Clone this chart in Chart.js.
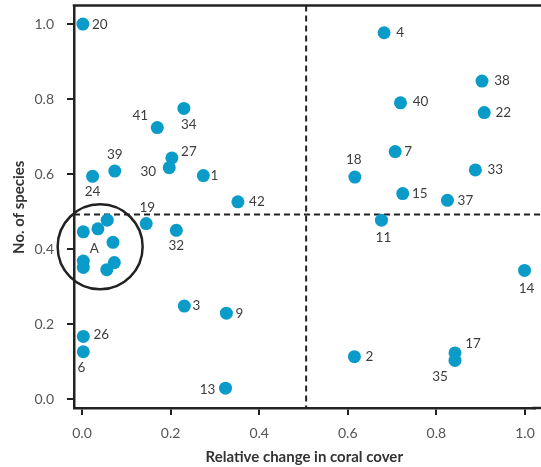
<!DOCTYPE html>
<html>
<head>
<meta charset="utf-8">
<script src="https://cdn.jsdelivr.net/npm/chart.js@4"></script>
<style>
  html, body { margin: 0; padding: 0; background: #fff; }
  canvas { display: block; }
</style>
</head>
<body>
<canvas id="c" width="541" height="467"></canvas>
<script>
// ---- data ----
const siteIds = ['1','2','3','4','6','7','9','11','13','14','15','17','18','19','20','22','24','26','27','30','32','33','34','35','37','38','39','40','41','42','','','','','','','',''];
const coverChange = [0.274,0.615,0.231,0.682,0.003,0.707,0.326,0.676,0.324,0.999,0.724,0.842,0.616,0.145,0.002,0.908,0.024,0.003,0.203,0.197,0.213,0.888,0.230,0.842,0.825,0.903,0.074,0.719,0.170,0.352,
                     0.003,0.036,0.057,0.070,0.003,0.003,0.073,0.056];
const speciesNo  = [0.596,0.113,0.248,0.977,0.126,0.660,0.229,0.477,0.029,0.343,0.548,0.123,0.592,0.468,1.000,0.764,0.594,0.167,0.643,0.617,0.450,0.611,0.775,0.103,0.530,0.848,0.608,0.790,0.724,0.526,
                     0.446,0.454,0.477,0.418,0.368,0.351,0.364,0.345];
const tickValues = [0, 0.2, 0.4, 0.6, 0.8, 1.0];
const tickLabels = ['0.0','0.2','0.4','0.6','0.8','1.0'];
const thresholdX = 0.506;
const thresholdY = 0.492;
const groupCenter = [0.041, 0.406];
const groupLabel = 'A';
const groupLabelAt = [0.028, 0.401];
const xTitle = 'Relative change in coral cover';
const yTitle = 'No. of species';

// ---- label placement (pixel offsets from point centre, styling only) ----
const labelOffsets = {
  '1':[11,0],'2':[15,0],'3':[12,0],'4':[16,0],'6':[-2,16],'7':[13,0],'9':[13,0],'11':[2,17],'13':[-18,2],
  '14':[2,18],'15':[17,0],'17':[18,-9],'18':[-1,-17],'19':[1,-16],'20':[17,1],'22':[19,0],'24':[0,15],
  '26':[18,-2],'27':[17,-6],'30':[-21,4],'32':[0,15],'33':[20,0],'34':[5,16],'35':[-15,16],'37':[18,0],
  '38':[20,0],'39':[0,-16],'40':[20,-1],'41':[-17,-12],'42':[19,0]
};

const points = coverChange.map((x, i) => ({x: x, y: speciesNo[i], id: siteIds[i]}));

const FONT = 'Lato, "Open Sans", sans-serif';
const INK = '#222222';

const overlay = {
  id: 'overlay',
  beforeDatasetsDraw(chart) {
    const {ctx, chartArea: a, scales: {x, y}} = chart;
    ctx.save();
    ctx.strokeStyle = INK;
    ctx.lineWidth = 2;
    ctx.setLineDash([6, 4]);
    const vx = x.getPixelForValue(thresholdX);
    ctx.beginPath();
    ctx.moveTo(vx, a.top - 1);
    ctx.lineTo(vx, a.bottom);
    ctx.stroke();
    const hy = y.getPixelForValue(thresholdY);
    ctx.beginPath();
    ctx.moveTo(a.left, hy);
    ctx.lineTo(chart.width, hy);
    ctx.stroke();
    ctx.restore();
  },
  afterDraw(chart) {
    const {ctx, chartArea: a, scales: {x, y}} = chart;
    ctx.save();
    ctx.strokeStyle = INK;
    ctx.lineWidth = 2.5;
    // top frame line
    ctx.beginPath();
    ctx.moveTo(a.left - 1.25, a.top - 1);
    ctx.lineTo(chart.width, a.top - 1);
    ctx.stroke();
    // bottom axis continues to the edge
    ctx.beginPath();
    ctx.moveTo(a.right - 2, x.top);
    ctx.lineTo(chart.width, x.top);
    ctx.stroke();
    // group circle
    ctx.beginPath();
    ctx.arc(x.getPixelForValue(groupCenter[0]), y.getPixelForValue(groupCenter[1]), 42.5, 0, Math.PI * 2);
    ctx.stroke();
    // labels
    ctx.fillStyle = '#3d3d3d';
    ctx.font = '13.5px ' + FONT;
    ctx.textAlign = 'center';
    ctx.textBaseline = 'middle';
    ctx.fillText(groupLabel, x.getPixelForValue(groupLabelAt[0]), y.getPixelForValue(groupLabelAt[1]));
    points.forEach(p => {
      if (!p.id) return;
      const off = labelOffsets[p.id] || [14, 0];
      ctx.fillText(p.id, x.getPixelForValue(p.x) + off[0], y.getPixelForValue(p.y) + off[1]);
    });
    ctx.restore();
  }
};

function fixedTicks(scale) {
  scale.ticks = tickValues.map(v => ({value: v}));
}

new Chart(document.getElementById('c'), {
  type: 'scatter',
  data: {
    datasets: [{
      data: points,
      backgroundColor: '#0a9bc9',
      borderWidth: 0,
      pointRadius: 6.5,
      pointHoverRadius: 6.5,
      clip: false
    }]
  },
  options: {
    responsive: false,
    animation: false,
    devicePixelRatio: 1,
    layout: { padding: { top: 6, right: 0, left: 0, bottom: 0 } },
    plugins: { legend: { display: false }, tooltip: { enabled: false } },
    scales: {
      x: {
        type: 'linear',
        min: -0.018, max: 1.0215,
        afterBuildTicks: fixedTicks,
        afterFit(scale) { scale.height = 59; scale.paddingLeft = 0; scale.paddingRight = 0; scale.paddingTop = 0; scale.paddingBottom = 0; },
        border: { display: true, color: INK, width: 2.5 },
        grid: { display: true, drawOnChartArea: false, drawTicks: true, tickLength: 7, color: INK, lineWidth: 2 },
        ticks: {
          padding: 10,
          color: '#555555',
          font: { family: FONT, size: 14 },
          callback: (v) => { const i = tickValues.indexOf(v); return i >= 0 ? tickLabels[i] : ''; }
        },
        title: { display: true, text: xTitle, color: '#333333', font: { family: FONT, size: 15, weight: 'bold' }, padding: { top: 0, bottom: 1 } }
      },
      y: {
        type: 'linear',
        min: -0.024, max: 1.047,
        afterBuildTicks: fixedTicks,
        afterFit(scale) { scale.width = 74; scale.paddingLeft = 0; scale.paddingRight = 0; scale.paddingTop = 0; scale.paddingBottom = 0; },
        border: { display: true, color: INK, width: 2.5 },
        grid: { display: true, drawOnChartArea: false, drawTicks: true, tickLength: 7, color: INK, lineWidth: 2 },
        ticks: {
          padding: 13,
          color: '#555555',
          font: { family: FONT, size: 14 },
          callback: (v) => { const i = tickValues.indexOf(v); return i >= 0 ? tickLabels[i] : ''; }
        },
        title: { display: true, text: yTitle, color: '#333333', font: { family: FONT, size: 15, weight: 'bold' }, padding: { top: 10, bottom: 0 } }
      }
    }
  },
  plugins: [overlay]
});
</script>
</body>
</html>
